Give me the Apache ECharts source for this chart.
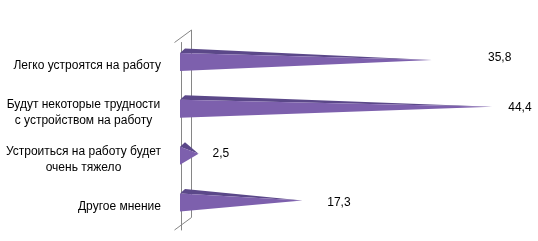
<!DOCTYPE html>
<html><head><meta charset="utf-8">
<script src="https://cdn.jsdelivr.net/npm/echarts@6/dist/echarts.min.js"></script>
<style>html,body{margin:0;padding:0;background:#fff}#c{width:538px;height:241px}</style>
</head><body><div id="c"></div>
<script>
// ---- data ----
const categories = [
  'Легко устроятся на работу',
  'Будут некоторые трудности\nс устройством на работу',
  'Устроиться на работу будет\nочень тяжело',
  'Другое мнение'
];
const values = [35.8, 44.4, 2.5, 17.3];
const valueLabels = ['35,8', '44,4', '2,5', '17,3'];

// ---- layout / style ----
const FONT = '"Liberation Sans", Arial, sans-serif';
const BODY = '#7d60ad', TOP = '#5b4889', LINE = '#868686';
const G = { left: 181, top: 42.5, width: 350.5, height: 187.5 };
const AXIS_X = 174, DEPTH_X = 17, DEPTH_Y = -12.5;
const labelShift = [[56, -2.5], [16, 1], [14, -0.5], [25, 2.5]];

function renderItem(params, api) {
  const v = api.value(0), i = api.value(1);
  const base = api.coord([0, i]);
  const tip = api.coord([v, i]);
  const c = base[1];
  const x0 = base[0] - 1;
  const tx = tip[0], ty = c - 6;
  const sh = labelShift[params.dataIndex];
  return {
    type: 'group',
    children: [
      { type: 'polygon', shape: { points: [[x0, c - 13], [x0 + 5, c - 17.5], [tx, ty]] }, style: { fill: TOP } },
      { type: 'polygon', shape: { points: [[x0, c - 13], [x0, c + 5], [tx, ty]] }, style: { fill: BODY } },
      { type: 'text', style: { text: valueLabels[params.dataIndex], x: tx + sh[0], y: ty + sh[1],
          fill: '#000', font: '12px ' + FONT, align: 'left', verticalAlign: 'middle' } }
    ]
  };
}

const chart = echarts.init(document.getElementById('c'), null, { renderer: 'canvas' });
chart.setOption({
  animation: false,
  backgroundColor: '#fff',
  grid: { left: G.left, top: G.top, width: G.width, height: G.height },
  xAxis: { type: 'value', min: 0, max: 50, show: false },
  yAxis: {
    type: 'category', data: categories, inverse: true, offset: G.left - AXIS_X,
    axisLine: { lineStyle: { color: LINE, width: 1 } },
    axisTick: { length: 3, lineStyle: { color: LINE } },
    splitLine: { show: false },
    axisLabel: {
      margin: 13, align: 'right', color: '#000', fontSize: 12, fontFamily: FONT, lineHeight: 16,
      formatter: function (s) {
        const lines = s.split('\n');
        if (lines.length === 1) return s;
        return lines.map(l => '{m|' + l + '}').join('\n');
      },
      rich: { m: { align: 'center', width: 155, fontSize: 12, fontFamily: FONT, color: '#000', lineHeight: 16 } }
    }
  },
  graphic: [{
    type: 'polyline', z: 1, silent: true,
    shape: { points: [
      [AXIS_X + 0.5, G.top], [AXIS_X + 0.5 + DEPTH_X, G.top + DEPTH_Y],
      [AXIS_X + 0.5 + DEPTH_X, G.top + G.height + DEPTH_Y], [AXIS_X + 0.5, G.top + G.height]
    ] },
    style: { stroke: LINE, lineWidth: 1, fill: null }
  }],
  series: [{
    type: 'custom', z: 5, renderItem: renderItem,
    encode: { x: 0, y: 1 },
    data: values.map((v, i) => [v, i])
  }]
});
</script></body></html>
